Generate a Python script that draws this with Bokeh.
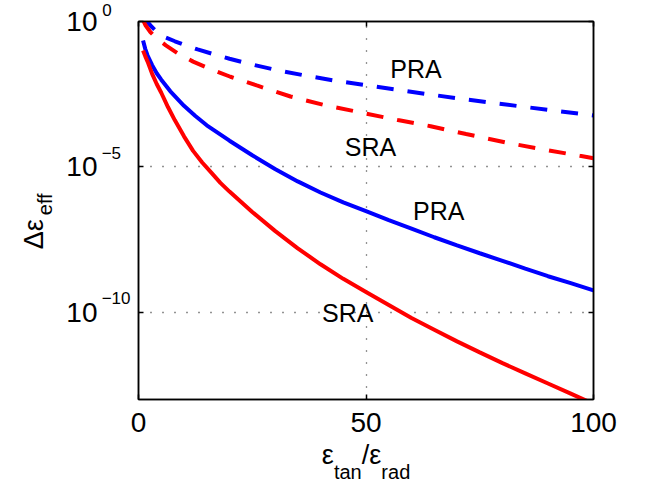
import math
from bokeh.plotting import figure
from bokeh.models import (Range1d, LogAxis, LinearAxis, FixedTicker, Label,
                          CustomJSTickFormatter)
from bokeh.embed import file_html
from bokeh.resources import INLINE

# ---------------- data (y given as log10 exponents) ----------------
x_pra_dash = [1, 2, 3, 4, 6, 8, 10, 13, 16, 20, 25, 30, 36, 43, 50, 57, 64, 71, 78, 85, 92, 100]
e_pra_dash = [0.15, -0.02, -0.2, -0.35, -0.55, -0.68, -0.8, -0.96, -1.1, -1.28, -1.48, -1.66,
              -1.84, -2.03, -2.19, -2.35, -2.51, -2.66, -2.8, -2.94, -3.08, -3.23]

x_sra_dash = [1, 1.5, 2.6, 4, 6, 8.5, 12, 16, 20.2, 26, 33.4, 41, 49.5, 57, 64.2, 72, 81, 89, 97, 100]
e_sra_dash = [0.05, -0.12, -0.36, -0.58, -0.82, -1.08, -1.38, -1.65, -1.9, -2.2, -2.58, -2.88,
              -3.15, -3.39, -3.6, -3.87, -4.17, -4.4, -4.62, -4.7]

x_pra = [1, 1.5, 2, 3, 4, 5, 7, 10, 12.5, 15, 20, 25, 30, 35, 40, 45, 50, 55, 60, 65, 70, 75,
         80, 85, 90, 95, 100]
e_pra = [-0.65, -0.95, -1.17, -1.5, -1.78, -2.0, -2.4, -2.9, -3.25, -3.57, -4.1, -4.6, -5.07,
         -5.5, -5.88, -6.22, -6.52, -6.83, -7.12, -7.42, -7.7, -7.97, -8.23, -8.5, -8.76, -9.0, -9.25]

x_sra = [1, 1.5, 2, 3, 4, 5, 6.5, 8, 10, 12, 14, 16, 18, 20, 25, 30, 35, 40, 45, 50, 55, 60, 65,
         70, 75, 80, 85, 90, 95, 100]
e_sra = [-1.0, -1.2, -1.38, -1.8, -2.15, -2.45, -2.95, -3.4, -3.95, -4.45, -4.85, -5.2, -5.55,
         -5.85, -6.55, -7.2, -7.8, -8.35, -8.85, -9.3, -9.75, -10.2, -10.6, -11.0, -11.38, -11.75,
         -12.1, -12.45, -12.8, -13.15]

x_ticks = [0, 50, 100]
y_ticks = [1e-10, 1e-5, 1e0]
y_tick_base = ["10", "10", "10"]
y_tick_exp = ["\u221210", "\u22125", "0"]

annot_text = ["PRA", "SRA", "PRA", "SRA"]
annot_x = [61, 51, 66, 46]
annot_e = [-1.64, -4.31, -6.50, -10.02]

# axis-label pieces (label text, anchor along the axis)
xlab_main = ["\u03b5", "/\u03b5"]
xlab_main_at = [41.6, 51.2]
xlab_sub = ["tan", "rad"]
xlab_sub_at = [46.0, 56.55]
ylab_main = ["\u0394\u03b5"]
ylab_main_at = [10 ** -6.80]
ylab_sub = ["eff"]
ylab_sub_at = [10 ** -5.91]

FONT = "Liberation Sans"
BLUE = "#0000ff"
RED = "#ff0000"


def ys(exps):
    return [10 ** v for v in exps]


p = figure(width=630, height=485, output_backend="svg", toolbar_location=None,
           y_axis_type="log", x_range=Range1d(0, 100), y_range=Range1d(1e-13, 1e0),
           min_border_left=138, min_border_right=37, min_border_top=21, min_border_bottom=83)
p.background_fill_color = "white"
p.border_fill_color = "white"
p.outline_line_color = "black"
p.outline_line_width = 1.5

# superscript exponents, padded with figure spaces so they line up on the left,
# and lifted half a line with a trailing line break
exp_padded = [e + "\u2007" * (3 - len(e)) + "\n" for e in y_tick_exp]

# main axes
p.xaxis.ticker = FixedTicker(ticks=x_ticks)
p.yaxis.ticker = FixedTicker(ticks=y_ticks)
p.yaxis.formatter = CustomJSTickFormatter(args=dict(labels=exp_padded), code="return labels[index]")
for ax in (p.xaxis[0], p.yaxis[0]):
    ax.major_tick_in = 5
    ax.major_tick_out = 0
    ax.minor_tick_line_color = None
    ax.axis_line_color = "black"
    ax.axis_line_width = 1.5
    ax.major_tick_line_color = "black"
    ax.major_tick_line_width = 1.5
    ax.major_label_text_font = FONT
    ax.major_label_text_color = "black"
p.xaxis.major_label_text_font_size = "28px"
p.xaxis.major_label_standoff = 13
p.yaxis.major_label_text_font_size = "17px"
p.yaxis.major_label_text_line_height = 1.4
p.yaxis.major_label_standoff = 8

blank = CustomJSTickFormatter(code="return ''")
right = LogAxis(ticker=FixedTicker(ticks=y_ticks), formatter=blank,
                major_tick_in=5, major_tick_out=0, minor_tick_line_color=None,
                axis_line_color="black", axis_line_width=1.5, major_tick_line_width=1.5,
                major_label_text_font_size="1px", major_label_standoff=0)
p.add_layout(right, "right")
top = LinearAxis(ticker=FixedTicker(ticks=x_ticks), formatter=blank,
                 major_tick_in=5, major_tick_out=0, minor_tick_line_color=None,
                 axis_line_color="black", axis_line_width=1.5, major_tick_line_width=1.5,
                 major_label_text_font_size="1px", major_label_standoff=0)
p.add_layout(top, "above")


def label_axis(cls, ticks, texts, size, standoff, orientation="horizontal"):
    return cls(ticker=FixedTicker(ticks=ticks),
               formatter=CustomJSTickFormatter(args=dict(labels=texts), code="return labels[index]"),
               axis_line_color=None, major_tick_line_color=None, minor_tick_line_color=None,
               major_tick_in=0, major_tick_out=0,
               major_label_text_font=FONT, major_label_text_font_size=size,
               major_label_text_color="black", major_label_standoff=standoff,
               major_label_orientation=orientation)


# y tick bases "10" (column left of the exponents)
p.add_layout(label_axis(LogAxis, y_ticks, y_tick_base, "28px", 1), "left")
# x label: eps_tan / eps_rad  (main glyphs row, then lowered subscript row)
p.add_layout(label_axis(LinearAxis, xlab_main_at, xlab_main, "27px", 5), "below")
p.add_layout(label_axis(LinearAxis, xlab_sub_at, xlab_sub, "20px", -12), "below")
# y label: Delta eps_eff (rotated); subscript column is nearer the frame
p.add_layout(label_axis(LogAxis, ylab_sub_at, ylab_sub, "20px", 18, math.pi / 2), "left")
p.add_layout(label_axis(LogAxis, ylab_main_at, ylab_main, "27px", -14, math.pi / 2), "left")

# grid
for g in (p.xgrid[0], p.ygrid[0]):
    g.grid_line_color = "black"
    g.grid_line_dash = "1 11"
    g.grid_line_width = 1.3
    g.grid_line_alpha = 0.85

# curves
p.line(x_pra_dash, ys(e_pra_dash), line_color=BLUE, line_width=4, line_dash="17 14")
p.line(x_sra_dash, ys(e_sra_dash), line_color=RED, line_width=4, line_dash="17 14")
p.line(x_pra, ys(e_pra), line_color=BLUE, line_width=4)
p.line(x_sra, ys(e_sra), line_color=RED, line_width=4)

# curve annotations
for t, xx, ee in zip(annot_text, annot_x, annot_e):
    p.add_layout(Label(x=xx, y=10 ** ee, text=t, text_font=FONT, text_font_size="25px",
                       text_align="center", text_baseline="middle", text_color="black"))

open("out.html", "w").write(file_html(p, INLINE))
